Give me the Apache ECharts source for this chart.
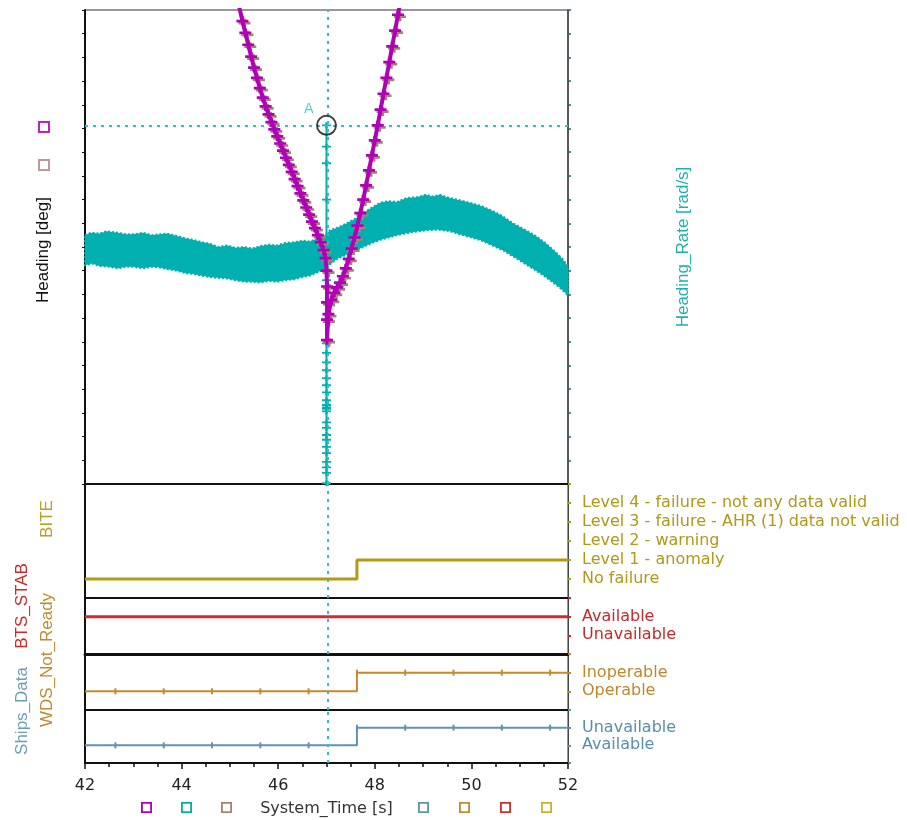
<!DOCTYPE html>
<html><head><meta charset="utf-8">
<script src="https://cdn.jsdelivr.net/npm/echarts@6/dist/echarts.min.js"></script>
<style>html,body{margin:0;padding:0;background:#fff}#c{width:907px;height:820px}</style>
</head><body><div id="c"></div>
<script>
// ---------------- DATA ----------------
const xMin = 42, xMax = 52, xStep = 2;

// Heading [deg] (magenta, + markers)
const headingTime = [45.14,45.20,45.26,45.32,45.38,45.44,45.50,45.56,45.62,45.68,45.74,45.80,45.86,45.92,45.98,46.04,46.10,46.16,46.22,46.28,46.34,46.40,46.46,46.52,46.58,46.64,46.70,46.76,46.82,46.88,46.94,46.98,47.00,47.01,47.01,47.01,47.01,47.04,47.10,47.16,47.22,47.28,47.34,47.40,47.46,47.52,47.58,47.64,47.70,47.76,47.82,47.88,47.94,48.00,48.06,48.12,48.18,48.24,48.30,48.36,48.42,48.48,48.54,48.60];
const headingDeg  = [61.8,60.2,58.6,57.1,55.6,54.1,52.7,51.4,50.1,48.9,47.8,46.8,45.8,44.9,44.0,43.1,42.2,41.3,40.4,39.5,38.6,37.7,36.8,35.9,35.0,34.1,33.2,32.4,31.5,30.6,29.6,28.6,27.0,25.0,23.0,20.8,18.2,21.5,23.3,24.2,24.9,25.5,26.3,27.3,28.5,29.8,31.2,32.7,34.3,36.0,37.8,39.7,41.6,43.5,45.4,47.4,49.4,51.4,53.4,55.4,57.4,59.4,61.4,63.4];

// Heading_Rate [rad/s] noisy band: upper and lower envelope
const rateTopTime = [42.00,42.12,42.30,42.45,42.68,42.85,43.00,43.20,43.39,43.55,43.70,43.90,44.07,44.25,44.42,44.60,44.75,44.95,45.11,45.30,45.46,45.62,45.80,45.98,46.14,46.32,46.50,46.66,46.82,46.95,47.07,47.25,47.42,47.60,47.76,47.94,48.11,48.28,48.46,48.66,48.87,49.05,49.20,49.35,49.49,49.70,49.97,50.20,50.39,50.62,50.86,51.10,51.36,51.55,51.77,51.90,52.00];
const rateTop     = [0.15,0.18,0.17,0.20,0.18,0.16,0.16,0.18,0.15,0.16,0.17,0.14,0.11,0.09,0.06,0.04,0.00,0.02,-0.01,0.00,-0.02,0.01,0.03,0.02,0.05,0.06,0.08,0.07,0.11,0.14,0.21,0.25,0.30,0.36,0.43,0.50,0.56,0.58,0.57,0.62,0.63,0.66,0.64,0.66,0.63,0.60,0.56,0.52,0.47,0.40,0.30,0.22,0.13,0.04,-0.08,-0.16,-0.25];
const rateBottomTime = [42.00,42.15,42.30,42.50,42.68,42.85,43.00,43.20,43.39,43.55,43.70,43.90,44.07,44.22,44.40,44.58,44.75,44.95,45.11,45.30,45.46,45.62,45.80,45.98,46.14,46.32,46.50,46.66,46.82,46.95,47.07,47.22,47.40,47.58,47.76,47.94,48.11,48.28,48.46,48.62,48.79,49.05,49.29,49.55,49.83,50.00,50.18,50.40,50.65,50.92,51.21,51.42,51.63,51.82,52.00];
const rateBottom     = [-0.23,-0.21,-0.24,-0.25,-0.27,-0.25,-0.25,-0.27,-0.25,-0.26,-0.28,-0.30,-0.33,-0.34,-0.36,-0.38,-0.39,-0.40,-0.42,-0.44,-0.44,-0.45,-0.43,-0.44,-0.42,-0.41,-0.38,-0.36,-0.32,-0.28,-0.22,-0.15,-0.10,-0.05,0.00,0.05,0.09,0.12,0.15,0.17,0.19,0.21,0.22,0.20,0.15,0.12,0.09,0.03,-0.04,-0.14,-0.25,-0.33,-0.42,-0.51,-0.61];
// Heading_Rate spike at t = 47.0
const spikeTime = 47.0;
const spikeRate = [1.54,1.27,1.06,0.60,0.10,-0.42,-0.92,-1.22,-1.34,-1.46,-1.56,-1.66,-1.75,-1.84,-1.94,-2.00,-2.03,-2.05,-2.08,-2.22,-2.29,-2.38,-2.44,-2.53,-2.61,-2.72,-2.79,-2.86,-2.99,-3.10];

// Cursor A
const cursorTime = 47.03;
const cursorRate = 1.54;

// BITE
const biteLevels = ['No failure','Level 1 - anomaly','Level 2 - warning','Level 3 - failure - AHR (1) data not valid','Level 4 - failure - not any data valid'];
const biteTime = [42, 47.63, 52];
const biteValue = [0, 1, 1];
// BTS_STAB
const btsLevels = ['Unavailable','Available'];
const btsTime = [42, 52];
const btsValue = [1, 1];
// WDS_Not_Ready
const wdsLevels = ['Operable','Inoperable'];
const sampleTime = [42,42.63,43.63,44.63,45.63,46.63,47.63,48.63,49.63,50.63,51.63,52];
const wdsValue = [0,0,0,0,0,0,1,1,1,1,1,1];
// Ships_Data
const shipsLevels = ['Available','Unavailable'];
const shipsValue = [0,0,0,0,0,0,1,1,1,1,1,1];

// ---------------- STYLE ----------------
const C = {heading:'#b000b8', heading2:'#a88470', rate:'#00b0b0', ships:'#5f94ae', wds:'#c8892e', bts:'#d42a2a', bite:'#b39a10', cursor:'#2cc0c8'};
const plus = 'path://M0,3.5H12V6.5H0Z M4.5,0H7.5V10H4.5Z';
const hollowSquare = 'path://M0,0H12V12H0Z M2,2V10H10V2Z';
const hFont = 'DejaVu Sans';
const vFont = '17px "Liberation Sans", Arial, sans-serif';

const gridDefs = [
  {top:10, height:474},
  {top:484, height:114},
  {top:598, height:56},
  {top:654, height:56},
  {top:710, height:53}
];
const grid = gridDefs.map(g => Object.assign({left:85, right:339, show:true, borderColor:'#333', borderWidth:1}, g));

const xAxis = gridDefs.map((g,i) => ({
  type:'value', gridIndex:i, min:xMin, max:xMax, interval:xStep,
  axisLine:{show:true, onZero:false, lineStyle:{color:'#111', width: i===2 ? 3 : 2}},
  axisTick:{show:i===4, length:6, lineStyle:{color:'#111', width:1.5}},
  minorTick:{show:i===4, splitNumber:4, length:4, lineStyle:{color:'#111', width:1.5}},
  axisLabel:{show:i===4, margin:15, color:'#222', fontFamily:hFont, fontSize:16, showMinLabel:true, showMaxLabel:true},
  splitLine:{show:false},
  name: i===4 ? 'System_Time [s]' : '',
  nameLocation:'middle', nameGap:38,
  nameTextStyle:{color:'#333', fontFamily:hFont, fontSize:16}
}));

function leftAxis(gi, min, max, extra) {
  return Object.assign({type:'value', gridIndex:gi, position:'left', min, max,
    axisLine:{show:true, onZero:false, lineStyle:{color:'#111', width:2}},
    axisTick:{show:false}, axisLabel:{show:false}, splitLine:{show:false}}, extra||{});
}
function rightAxis(gi, min, max, names, color) {
  return {type:'value', gridIndex:gi, position:'right', min, max, interval:1,
    axisLine:{show:true, onZero:false, lineStyle:{color:'#444', width:1}},
    axisTick:{show:true, length:3, lineStyle:{color, width:2}},
    axisLabel:{show:true, margin:14, color, fontFamily:hFont, fontSize:16,
      formatter: v => (names[Math.round(v)] !== undefined && Math.abs(v-Math.round(v))<1e-6) ? names[Math.round(v)] : ''},
    splitLine:{show:false}};
}

const yAxis = [
  leftAxis(0, 0, 60, {interval:3, axisTick:{show:true, length:3, lineStyle:{color:'#111'}}}),
  {type:'value', gridIndex:0, position:'right', min:-3, max:3, interval:0.3,
    axisLine:{show:true, onZero:false, lineStyle:{color:'#444', width:1.5}},
    axisTick:{show:true, length:3, inside:false, lineStyle:{color:'#1a6a6a', width:1.5}},
    axisLabel:{show:false}, splitLine:{show:false}},
  leftAxis(1, -1, 5), rightAxis(1, -1, 5, biteLevels, '#b09818'),
  leftAxis(2, -1, 2), rightAxis(2, -1, 2, btsLevels, '#c82828'),
  leftAxis(3, -1, 2), rightAxis(3, -1, 2, wdsLevels, '#c0862c'),
  leftAxis(4, -1, 2), rightAxis(4, -1, 2, shipsLevels, '#5a8eaa')
];

const cursorLine = (extraData) => ({
  silent:true, symbol:['none','none'], label:{show:false},
  lineStyle:{color:C.cursor, type:[3,5], width:2},
  data:[{xAxis:cursorTime}].concat(extraData||[])
});

const zip = (ts, vs) => ts.map((t,i) => [t, vs[i]]);
const sampled = (vs) => sampleTime.map((t,i) => ({value:[t, vs[i]], symbol:(i===0||i===sampleTime.length-1)?'none':'rect'}));

const series = [
  {name:'Heading_Rate', type:'custom', xAxisIndex:0, yAxisIndex:1, z:2,
   itemStyle:{color:C.rate},
   data: zip(rateTopTime, rateTop),
   encode:{x:0, y:1},
   renderItem:(params, api) => {
     if (params.dataIndex !== 0) return;
     const pts = [];
     rateTopTime.forEach((t,i) => pts.push(api.coord([t, rateTop[i]])));
     for (let i = rateBottomTime.length-1; i >= 0; i--) pts.push(api.coord([rateBottomTime[i], rateBottom[i]]));
     return {type:'polygon', shape:{points:pts}, style:{fill:C.rate, stroke:C.rate, lineWidth:2, lineDash:[2,2]}};
   }},
  {name:'Heading_Rate', type:'line', xAxisIndex:0, yAxisIndex:1, z:3,
   data: spikeRate.map(v => [spikeTime, v]),
   symbol:plus, symbolSize:[9,6], showAllSymbol:true,
   itemStyle:{color:C.rate}, lineStyle:{color:C.rate, width:2},
   markLine: cursorLine([{yAxis:cursorRate}])},
  {name:'Heading_Filtered', type:'line', xAxisIndex:0, yAxisIndex:0, z:4,
   data: zip(headingTime, headingDeg),
   symbol:plus, symbolSize:[12,9], symbolOffset:[2,2], showAllSymbol:true,
   itemStyle:{color:C.heading2}, lineStyle:{color:C.heading2, width:3}},
  {name:'Heading', type:'line', xAxisIndex:0, yAxisIndex:0, z:5,
   data: zip(headingTime, headingDeg),
   symbol:plus, symbolSize:[12,9], showAllSymbol:true,
   itemStyle:{color:C.heading}, lineStyle:{color:C.heading, width:4}},
  {name:'cursorA', type:'scatter', xAxisIndex:0, yAxisIndex:1, z:6,
   data:[[spikeTime, cursorRate]], symbol:'circle', symbolSize:19,
   itemStyle:{color:'rgba(0,0,0,0)', borderColor:'#111', borderWidth:2},
   label:{show:true, formatter:'A', position:[-12,-12], color:C.cursor, fontFamily:hFont, fontSize:14}},
  {name:'BITE', type:'line', xAxisIndex:1, yAxisIndex:3, step:'end',
   data: zip(biteTime, biteValue), symbol:'none',
   itemStyle:{color:'#d0b030'}, lineStyle:{color:C.bite, width:3},
   markLine: cursorLine()},
  {name:'BTS_STAB', type:'line', xAxisIndex:2, yAxisIndex:5,
   data: zip(btsTime, btsValue), symbol:'none',
   itemStyle:{color:'#d03030'}, lineStyle:{color:C.bts, width:3},
   markLine: cursorLine()},
  {name:'WDS_Not_Ready', type:'line', xAxisIndex:3, yAxisIndex:7, step:'end',
   data: sampled(wdsValue), symbolSize:[2,6],
   itemStyle:{color:C.wds}, lineStyle:{color:C.wds, width:2},
   markLine: cursorLine()},
  {name:'Ships_Data', type:'line', xAxisIndex:4, yAxisIndex:9, step:'end',
   data: sampled(shipsValue), symbolSize:[2,6],
   itemStyle:{color:C.ships}, lineStyle:{color:C.ships, width:2},
   markLine: cursorLine()}
];

const legendBase = {top:797, itemWidth:11, itemHeight:11, icon:hollowSquare, formatter:() => '',
  selectedMode:false, itemStyle:{borderWidth:0}};

const vText = (text, x, y, color) => ({type:'text', x, y, rotation:Math.PI/2, silent:true,
  style:{text, fill:color, font:vFont, align:'center', verticalAlign:'middle', textAlign:'center', textVerticalAlign:'middle'}});

const option = {
  animation:false,
  backgroundColor:'#fff',
  grid, xAxis, yAxis, series,
  legend:[
    Object.assign({}, legendBase, {left:136, itemGap:29, data:['Heading','Heading_Rate','Heading_Filtered']}),
    Object.assign({}, legendBase, {left:413, itemGap:30, data:['Ships_Data','WDS_Not_Ready','BTS_STAB','BITE']})
  ],
  graphic:[
    {type:'rect', x:39, y:122, silent:true, shape:{width:10, height:10}, style:{fill:'none', stroke:'#c020c0', lineWidth:2}},
    {type:'rect', x:39, y:160, silent:true, shape:{width:10, height:10}, style:{fill:'none', stroke:'#c09898', lineWidth:2}},
    vText('Heading [deg]', 43, 250, '#111'),
    vText('Heading_Rate [rad/s]', 683, 247, '#20b0b0'),
    vText('BITE', 47, 519, '#b8a020'),
    vText('BTS_STAB', 22, 606, '#d02828'),
    vText('WDS_Not_Ready', 47, 660, '#c08a30'),
    vText('Ships_Data', 22, 711, '#6a9db8')
  ]
};

const chart = echarts.init(document.getElementById('c'), null, {renderer:'canvas'});
chart.setOption(option);
</script>
</body></html>
